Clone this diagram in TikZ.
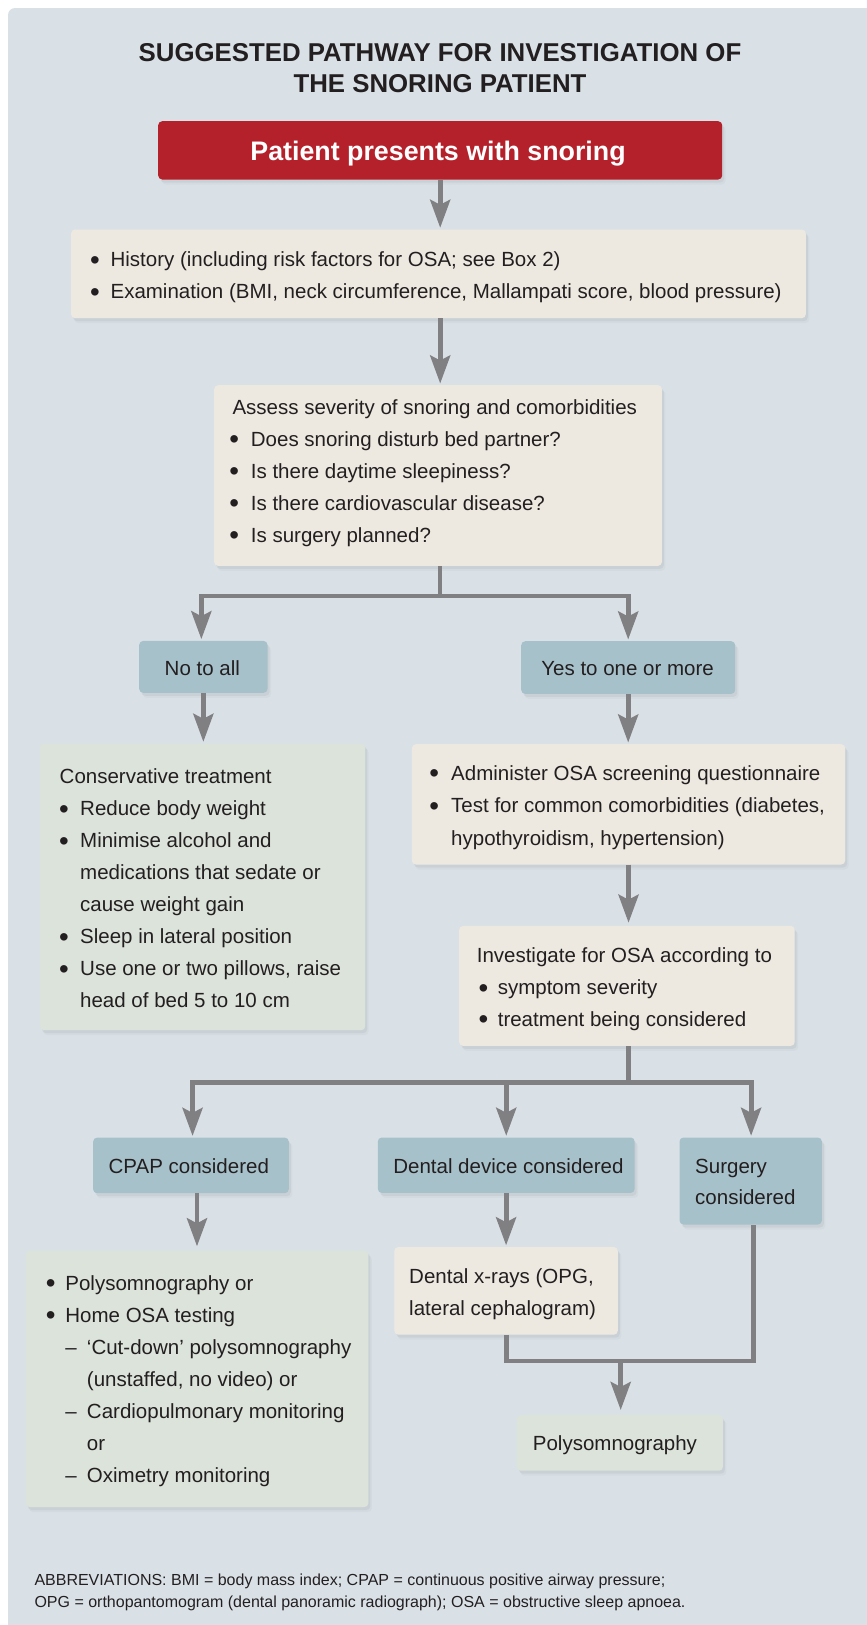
\documentclass[tikz,border=0pt]{standalone}
\usepackage{fontspec}
\setmainfont{Liberation Sans}
\usetikzlibrary{arrows.meta,shadows}
\definecolor{panel}{HTML}{D9E1E7}
\definecolor{beige}{HTML}{EDE9E0}
\definecolor{sage}{HTML}{DBE3DA}
\definecolor{steel}{HTML}{A7C1CB}
\definecolor{brick}{HTML}{B5212B}
\definecolor{conn}{HTML}{808083}
\definecolor{ink}{HTML}{231F20}
\newcommand\bodyfont{\fontsize{20.5}{32}\selectfont}
\newcommand\bu[1][20pt]{\makebox[#1][l]{\hspace*{-0.6pt}\raisebox{-2.4pt}{\scalebox{1.35}{\textbullet}}}}
\newcommand\dsh{\makebox[21.6pt][l]{–}}
\newcommand\fst{\rule{0pt}{17pt}}
\begin{document}
\begin{tikzpicture}[x=1pt,y=-1pt,
  box/.style={rounded corners=4pt, inner sep=0pt, anchor=north west,
    drop shadow={opacity=0.10, shadow xshift=2pt, shadow yshift=-3pt},
    drop shadow={opacity=0.06, shadow xshift=3.5pt, shadow yshift=-5pt}},
  txt/.style={inner sep=0pt, anchor=north west, align=left, font=\bodyfont, text=ink},
  one/.style={inner sep=0pt, anchor=base, font=\bodyfont, text=ink},
  ln/.style={draw=conn, line width=4.8pt},
  arr/.style={ln, -{Stealth[length=28pt,width=20pt,inset=5pt]}, shorten >=1.5pt}]
\useasboundingbox (0,0) rectangle (867,1625);
\fill[panel, rounded corners=7pt] (8,8) rectangle (900,1660);

% title
\node[inner sep=0pt, anchor=north, align=center, text=ink,
  font=\fontsize{25.8}{31.7}\selectfont\bfseries] (title) at (440,41)
  {\rule{0pt}{20pt}SUGGESTED PATHWAY FOR INVESTIGATION OF\\THE SNORING PATIENT};

% boxes
\node[box, fill=brick, minimum width=564pt, minimum height=58.3pt] (red) at (158,121) {};
\node[box, fill=beige, minimum width=734.8pt, minimum height=88.7pt] (b2) at (70.8,229.3) {};
\node[box, fill=beige, minimum width=447.7pt, minimum height=180.7pt] (b3) at (214,385) {};
\node[box, fill=steel, minimum width=128.3pt, minimum height=52pt] (no) at (139,640.7) {};
\node[box, fill=steel, minimum width=214pt, minimum height=52.7pt] (yes) at (521,641) {};
\node[box, fill=sage, minimum width=325.2pt, minimum height=286.7pt] (cons) at (39.8,743.3) {};
\node[box, fill=beige, minimum width=433.3pt, minimum height=120.3pt] (rb) at (411.7,744) {};
\node[box, fill=beige, minimum width=335.5pt, minimum height=120pt] (inv) at (459,925.7) {};
\node[box, fill=steel, minimum width=195.7pt, minimum height=55.6pt] (cpap) at (92.9,1137.4) {};
\node[box, fill=steel, minimum width=256.9pt, minimum height=55.4pt] (dd) at (377.6,1137.3) {};
\node[box, fill=steel, minimum width=142.4pt, minimum height=87pt] (surg) at (679.3,1137.3) {};
\node[box, fill=sage, minimum width=342.8pt, minimum height=256.5pt] (plist) at (25.4,1250.3) {};
\node[box, fill=beige, minimum width=223.4pt, minimum height=87.7pt] (xray) at (394.2,1246.8) {};
\node[box, fill=sage, minimum width=206pt, minimum height=55.5pt] (psg) at (516.7,1415) {};

% texts
\node[inner sep=0pt, anchor=base, text=white, font=\fontsize{26.8}{30}\selectfont\bfseries]
  (tred) at (438,160) {Patient presents with snoring};
\node[txt] (t2) at (90.4,249.7)
  {\fst\bu History (including risk factors for OSA; see Box 2)\\
   \bu Examination (BMI, neck circumference, Mallampati score, blood pressure)};
\node[txt] (t3) at (229.7,397.3)
  {\fst\hspace*{2.6pt}Assess severity of snoring and comorbidities\\
   \bu[21pt]Does snoring disturb bed partner?\\
   \bu[21pt]Is there daytime sleepiness?\\
   \bu[21pt]Is there cardiovascular disease?\\
   \bu[21pt]Is surgery planned?};
\node[one] (tno) at (202.3,675) {No to all};
\node[one] (tyes) at (627.6,675.5) {Yes to one or more};
\node[txt] (tcons) at (59.5,766.5)
  {\fst Conservative treatment\\
   \bu[20.5pt]Reduce body weight\\
   \bu[20.5pt]Minimise alcohol and\\
   \hspace*{20.5pt}medications that sedate or\\
   \hspace*{20.5pt}cause weight gain\\
   \bu[20.5pt]Sleep in lateral position\\
   \bu[20.5pt]Use one or two pillows, raise\\
   \hspace*{20.5pt}head of bed 5 to 10 cm};
\node[txt, font=\fontsize{20.5}{32.5}\selectfont] (trb) at (429.7,763)
  {\fst\bu[21.3pt]Administer OSA screening questionnaire\\
   \bu[21.3pt]Test for common comorbidities (diabetes,\\
   \hspace*{21.3pt}hypothyroidism, hypertension)};
\node[txt, font=\fontsize{20.5}{31.7}\selectfont] (tinv) at (476.6,945.7)
  {\fst Investigate for OSA according to\\
   \hspace*{2.5pt}\bu[18.5pt]symptom severity\\
   \hspace*{2.5pt}\bu[18.5pt]treatment being considered};
\node[one] (tcpap) at (188.8,1173) {CPAP considered};
\node[one] (tdd) at (508.4,1173.3) {Dental device considered};
\node[txt, font=\fontsize{20.5}{31}\selectfont] (tsurg) at (695,1156.3)
  {\fst Surgery\\considered};
\node[txt] (tplist) at (46.2,1273.3)
  {\fst\bu[19pt]Polysomnography or\\
   \bu[19pt]Home OSA testing\\
   \hspace*{19pt}\dsh ‘Cut-down’ polysomnography\\
   \hspace*{40.6pt}(unstaffed, no video) or\\
   \hspace*{19pt}\dsh Cardiopulmonary monitoring\\
   \hspace*{40.6pt}or\\
   \hspace*{19pt}\dsh Oximetry monitoring};
\node[txt] (txray) at (409,1266.3)
  {\fst Dental x-rays (OPG,\\lateral cephalogram)};
\node[one, anchor=base west] (tpsg) at (532.7,1450) {Polysomnography};
\node[txt, font=\fontsize{16}{22}\selectfont] (abbr) at (34.3,1572.7)
  {\rule{0pt}{13pt}ABBREVIATIONS: BMI = body mass index; CPAP = continuous positive airway pressure;\\
   OPG = orthopantomogram (dental panoramic radiograph); OSA = obstructive sleep apnoea.};

% connectors
\draw[arr] (red.south) -- (red.south |- b2.north);
\draw[arr] (b2.south -| red.south) -- (red.south |- b3.north);
\coordinate (j1) at (440,596);
\draw[ln] (b3.south -| j1) -- (j1);
\draw[arr] (j1) -| ([xshift=-2pt]no.north);
\draw[arr] (j1) -| (yes.north);
\draw[arr] (no.south) -- (no.south |- cons.north);
\draw[arr] (yes.south) -- (yes.south |- rb.north);
\draw[arr, shorten >=3pt] (rb.south) -- (rb.south |- inv.north);
\coordinate (j2) at (628.3,1082.7);
\draw[ln] (inv.south -| j2) -- (j2);
\draw[arr] (j2) -| ([xshift=1.6pt]cpap.north);
\draw[arr] (j2) -| (dd.north);
\draw[arr] (j2) -| ([xshift=0.4pt]surg.north);
\draw[arr, shorten >=4pt] (plist.north |- cpap.south) -- (plist.north);
\draw[arr] (xray.north |- dd.south) -- (xray.north);
\coordinate (j3) at (620.7,1361);
\draw[ln] (xray.south) |- (j3) -| ([xshift=2.5pt]surg.south);
\draw[arr, shorten >=5pt] (j3) -- (j3 |- psg.north);
\end{tikzpicture}
\end{document}
